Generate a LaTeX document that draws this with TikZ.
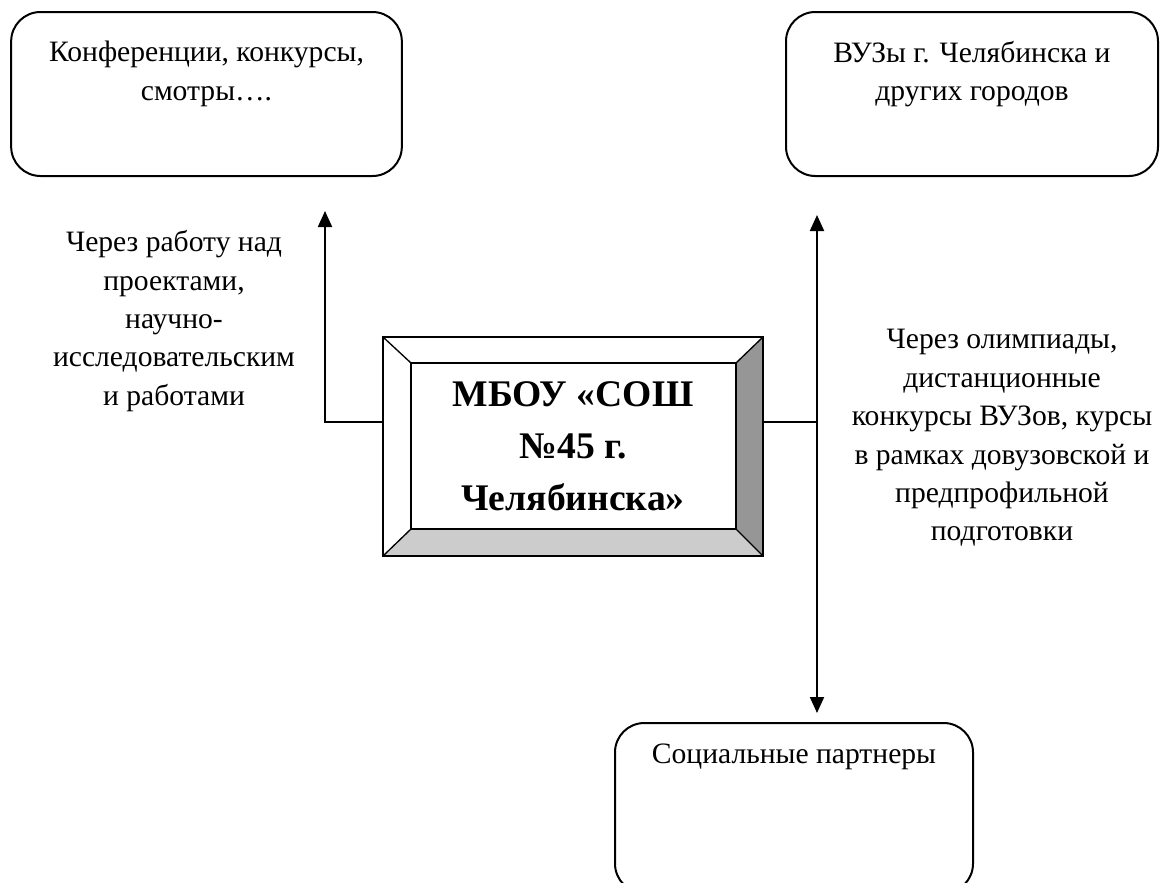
\documentclass[tikz,border=0pt]{standalone}
\usepackage{fontspec}
\setmainfont{Liberation Serif}
\usetikzlibrary{arrows.meta,calc}
\definecolor{bevdark}{HTML}{969696}
\definecolor{bevlight}{HTML}{CCCCCC}
\begin{document}
\begin{tikzpicture}[x=0.75pt,y=-0.75pt,
  rbox/.style={draw,line width=1.5pt,rounded corners=22pt,inner sep=0pt},
  txt/.style={align=center,font=\fontsize{22.2}{28.8}\selectfont,inner sep=0pt},
  conn/.style={line width=1.5pt},
  tip/.style={-{Triangle[width=10.5pt,length=12pt]}},
  bev/.style={draw,line width=1.5pt,line join=miter}
]
\useasboundingbox (0,0) rectangle (1170,882);
% top-left box
\node[rbox,minimum width=293pt,minimum height=123pt] (tl) at (206.5,94) {};
\node[txt] (tlt) at (206.5,74) {Конференции, конкурсы,\\смотры….};
% top-right box
\node[rbox,minimum width=279pt,minimum height=123pt] (tr) at (972,94) {};
\node[txt] (trt) at (972,74) {ВУЗы г. Челябинска и\\других городов};
% bottom box
\node[rbox,minimum width=268.5pt,minimum height=127.5pt] (bb) at (794,808) {};
\node[txt] (bbt) at (794,757) {Социальные партнеры};
% center bevelled box
\coordinate (o1) at (383,337);
\coordinate (o2) at (763,337);
\coordinate (o3) at (763,556);
\coordinate (o4) at (383,556);
\coordinate (i1) at (411,363);
\coordinate (i2) at (736,363);
\coordinate (i3) at (736,529);
\coordinate (i4) at (411,529);
\fill[white] (o1) -- (o2) -- (i2) -- (i1) -- cycle;
\fill[white] (o1) -- (i1) -- (i4) -- (o4) -- cycle;
\fill[bevdark] (o2) -- (o3) -- (i3) -- (i2) -- cycle;
\fill[bevlight] (o4) -- (i4) -- (i3) -- (o3) -- cycle;
\draw[bev] (o1) -- (o2) -- (o3) -- (o4) -- cycle;
\draw[bev] (i1) -- (i2) -- (i3) -- (i4) -- cycle;
\draw[line width=1pt] (o1) -- (i1) (o2) -- (i2) (o3) -- (i3) (o4) -- (i4);
\node[align=center,inner sep=0pt,font=\fontsize{28.2}{39}\bfseries] (ct) at (573,446) {МБОУ «СОШ\\№45 г.\\Челябинска»};
% left connector
\coordinate (lstart) at (383,422);
\coordinate (lcorner) at (325,422);
\coordinate (ltip) at (325,211);
\draw[conn,tip] (lstart) -- (lcorner) -- (ltip);
\node[txt] (lt) at (174,321) {Через работу над\\проектами,\\научно-\\исследовательским\\и работами};
% right connector
\coordinate (rstart) at (763,422);
\coordinate (rjoin) at (817,422);
\coordinate (rtop) at (817,215);
\coordinate (rbot) at (817,713);
\draw[conn] (rstart) -- (rjoin);
\draw[conn,{Triangle[width=10.5pt,length=12pt]}-{Triangle[width=10.5pt,length=12pt]}] (rtop) -- (rbot);
\node[txt] (rt) at (1002,438) {Через олимпиады,\\дистанционные\\конкурсы ВУЗов, курсы\\в рамках довузовской и\\предпрофильной\\подготовки};
\end{tikzpicture}
\end{document}
